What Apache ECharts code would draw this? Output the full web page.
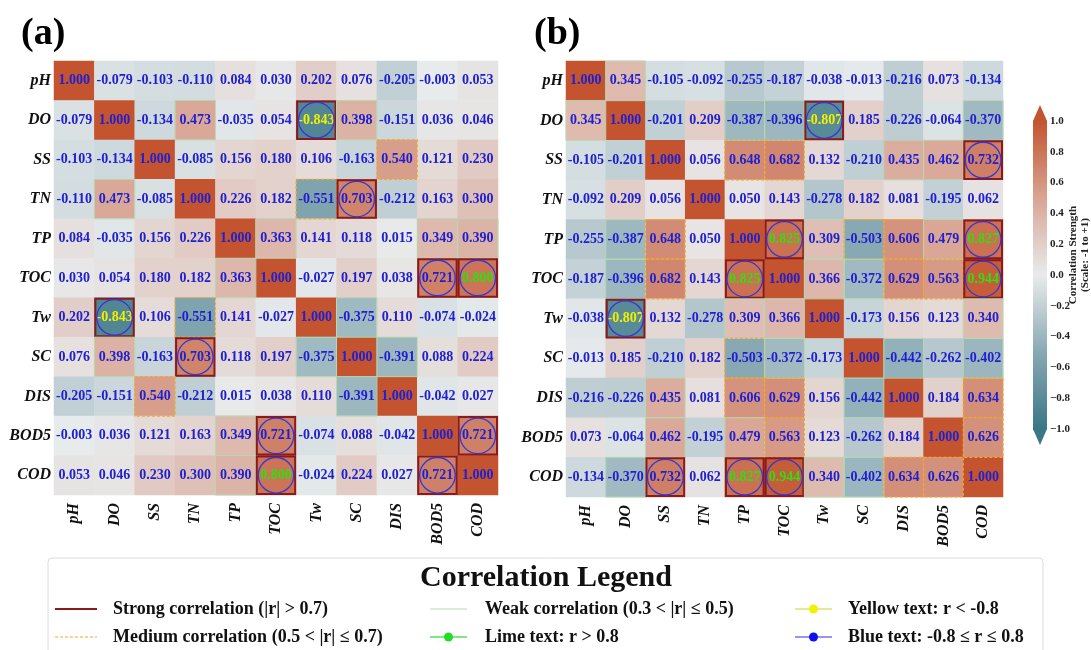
<!DOCTYPE html>
<html>
<head>
<meta charset="utf-8">
<script src="https://cdn.jsdelivr.net/npm/echarts@6/dist/echarts.min.js"></script>
<style>
  html, body { margin: 0; padding: 0; background: #fff; }
  #chart { width: 1091px; height: 650px; }
</style>
</head>
<body>
<div id="chart"></div>
<script>
// variables, same order on both axes
var labels = ['pH', 'DO', 'SS', 'TN', 'TP', 'TOC', 'Tw', 'SC', 'DIS', 'BOD5', 'COD'];

// panel (a)
var corrA = [
  [1.000, -0.079, -0.103, -0.110, 0.084, 0.030, 0.202, 0.076, -0.205, -0.003, 0.053],
  [-0.079, 1.000, -0.134, 0.473, -0.035, 0.054, -0.843, 0.398, -0.151, 0.036, 0.046],
  [-0.103, -0.134, 1.000, -0.085, 0.156, 0.180, 0.106, -0.163, 0.540, 0.121, 0.230],
  [-0.110, 0.473, -0.085, 1.000, 0.226, 0.182, -0.551, 0.703, -0.212, 0.163, 0.300],
  [0.084, -0.035, 0.156, 0.226, 1.000, 0.363, 0.141, 0.118, 0.015, 0.349, 0.390],
  [0.030, 0.054, 0.180, 0.182, 0.363, 1.000, -0.027, 0.197, 0.038, 0.721, 0.800],
  [0.202, -0.843, 0.106, -0.551, 0.141, -0.027, 1.000, -0.375, 0.110, -0.074, -0.024],
  [0.076, 0.398, -0.163, 0.703, 0.118, 0.197, -0.375, 1.000, -0.391, 0.088, 0.224],
  [-0.205, -0.151, 0.540, -0.212, 0.015, 0.038, 0.110, -0.391, 1.000, -0.042, 0.027],
  [-0.003, 0.036, 0.121, 0.163, 0.349, 0.721, -0.074, 0.088, -0.042, 1.000, 0.721],
  [0.053, 0.046, 0.230, 0.300, 0.390, 0.800, -0.024, 0.224, 0.027, 0.721, 1.000]
];

// panel (b)
var corrB = [
  [1.000, 0.345, -0.105, -0.092, -0.255, -0.187, -0.038, -0.013, -0.216, 0.073, -0.134],
  [0.345, 1.000, -0.201, 0.209, -0.387, -0.396, -0.807, 0.185, -0.226, -0.064, -0.370],
  [-0.105, -0.201, 1.000, 0.056, 0.648, 0.682, 0.132, -0.210, 0.435, 0.462, 0.732],
  [-0.092, 0.209, 0.056, 1.000, 0.050, 0.143, -0.278, 0.182, 0.081, -0.195, 0.062],
  [-0.255, -0.387, 0.648, 0.050, 1.000, 0.825, 0.309, -0.503, 0.606, 0.479, 0.827],
  [-0.187, -0.396, 0.682, 0.143, 0.825, 1.000, 0.366, -0.372, 0.629, 0.563, 0.944],
  [-0.038, -0.807, 0.132, -0.278, 0.309, 0.366, 1.000, -0.173, 0.156, 0.123, 0.340],
  [-0.013, 0.185, -0.210, 0.182, -0.503, -0.372, -0.173, 1.000, -0.442, -0.262, -0.402],
  [-0.216, -0.226, 0.435, 0.081, 0.606, 0.629, 0.156, -0.442, 1.000, 0.184, 0.634],
  [0.073, -0.064, 0.462, -0.195, 0.479, 0.563, 0.123, -0.262, 0.184, 1.000, 0.626],
  [-0.134, -0.370, 0.732, 0.062, 0.827, 0.944, 0.340, -0.402, 0.634, 0.626, 1.000]
];

// colour bar ticks
var cbTicks = [-1.0, -0.8, -0.6, -0.4, -0.2, 0.0, 0.2, 0.4, 0.6, 0.8, 1.0];

var palette = ['#3b7686', '#88a9b3', '#e8ebec', '#d9a493', '#c3542f'];
var SERIF = '"Liberation Serif", "DejaVu Serif", serif';

function textColor(v, i, j) {
  if (i === j) return '#2020d0';
  if (v < -0.8) return '#f0f000';
  if (v >= 0.8) return '#33dd11';
  return '#2020d0';
}

function heatData(m) {
  var out = [];
  for (var i = 0; i < m.length; i++) {
    for (var j = 0; j < m[i].length; j++) {
      out.push({ value: [j, i, m[i][j]], label: { color: textColor(m[i][j], i, j) } });
    }
  }
  return out;
}

function plainData(m) {
  var out = [];
  for (var i = 0; i < m.length; i++)
    for (var j = 0; j < m[i].length; j++) out.push([j, i, m[i][j]]);
  return out;
}

// frames round the cells + circles for strong ones
function renderFrame(params, api) {
  var x = api.value(0), y = api.value(1), v = api.value(2);
  if (x === y) return;
  var a = Math.abs(v);
  var c = api.coord([x, y]);
  var s = api.size([1, 1]);
  var r = { x: c[0] - s[0] / 2, y: c[1] - s[1] / 2, width: s[0], height: s[1] };
  if (a > 0.7) {
    return {
      type: 'group',
      children: [
        { type: 'rect', shape: { x: r.x + 1, y: r.y + 1, width: r.width - 2, height: r.height - 2 },
          style: { fill: null, stroke: '#8b1a1a', lineWidth: 2 } },
        { type: 'circle', shape: { cx: c[0], cy: c[1], r: Math.min(s[0], s[1]) * 0.45 },
          style: { fill: null, stroke: '#3535d8', lineWidth: 1.3 } }
      ]
    };
  }
  if (a > 0.5) {
    return { type: 'rect', shape: r, style: { fill: null, stroke: '#f0a830', lineWidth: 1.2, lineDash: [3, 2] } };
  }
  if (a > 0.3) {
    return { type: 'rect', shape: r, style: { fill: null, stroke: '#b6d9b0', lineWidth: 1 } };
  }
  return;
}

function renderBar(params, api) {
  var p1 = api.coord([0, cbTicks[cbTicks.length - 1]]);
  var p2 = api.coord([1, cbTicks[0]]);
  var x0 = p1[0], x1 = p2[0], y0 = p1[1], y1 = p2[1];
  var stops = [];
  for (var k = 0; k < palette.length; k++) {
    stops.push({ offset: k / (palette.length - 1), color: palette[palette.length - 1 - k] });
  }
  return {
    type: 'group',
    children: [
      { type: 'rect', shape: { x: x0, y: y0, width: x1 - x0, height: y1 - y0 },
        style: { fill: new echarts.graphic.LinearGradient(0, 0, 0, 1, stops) } },
      { type: 'polygon', shape: { points: [[x0, y0], [x1, y0], [(x0 + x1) / 2, y0 - 16]] },
        style: { fill: palette[palette.length - 1] } },
      { type: 'polygon', shape: { points: [[x0, y1], [x1, y1], [(x0 + x1) / 2, y1 + 16]] },
        style: { fill: palette[0] } }
    ]
  };
}

function catX(gi) {
  return {
    type: 'category', gridIndex: gi, data: labels, position: 'bottom',
    axisLine: { show: false }, axisTick: { show: false }, splitLine: { show: false },
    axisLabel: { rotate: 90, margin: 8, fontFamily: SERIF, fontWeight: 'bold', fontStyle: 'italic', fontSize: 16, color: '#111' }
  };
}
function catY(gi) {
  return {
    type: 'category', gridIndex: gi, data: labels, inverse: true,
    axisLine: { show: false }, axisTick: { show: false }, splitLine: { show: false },
    axisLabel: { margin: 3, fontFamily: SERIF, fontWeight: 'bold', fontStyle: 'italic', fontSize: 16, color: '#111' }
  };
}

var cellLabel = {
  show: true,
  fontFamily: SERIF, fontWeight: 'bold', fontSize: 14,
  formatter: function (p) { return p.value[2].toFixed(3); }
};

var chart = echarts.init(document.getElementById('chart'), null, { renderer: 'canvas' });

chart.setOption({
  backgroundColor: '#fff',
  animation: false,
  grid: [
    { left: 54, top: 61, width: 444, height: 434 },
    { left: 566, top: 61, width: 437, height: 436 },
    { left: 1033, top: 121, width: 14, height: 308 }
  ],
  xAxis: [
    catX(0), catX(1),
    { type: 'value', gridIndex: 2, min: 0, max: 1, show: false }
  ],
  yAxis: [
    catY(0), catY(1),
    {
      type: 'value', gridIndex: 2, position: 'right',
      min: cbTicks[0], max: cbTicks[cbTicks.length - 1], interval: 0.2,
      axisLine: { show: false },
      axisTick: { show: true, length: 3, lineStyle: { color: '#333' } },
      splitLine: { show: false },
      axisLabel: {
        margin: 3, fontFamily: SERIF, fontWeight: 'bold', fontSize: 11, color: '#222',
        formatter: function (v) { return v.toFixed(1).replace('-', '\u2212'); }
      }
    }
  ],
  visualMap: {
    show: false, type: 'continuous', seriesIndex: [0, 1], dimension: 2,
    min: -1, max: 1, inRange: { color: palette }
  },
  series: [
    { type: 'heatmap', xAxisIndex: 0, yAxisIndex: 0, data: heatData(corrA), label: cellLabel, itemStyle: { borderWidth: 0 } },
    { type: 'heatmap', xAxisIndex: 1, yAxisIndex: 1, data: heatData(corrB), label: cellLabel, itemStyle: { borderWidth: 0 } },
    { type: 'custom', xAxisIndex: 0, yAxisIndex: 0, data: plainData(corrA), renderItem: renderFrame, z: 5, clip: false },
    { type: 'custom', xAxisIndex: 1, yAxisIndex: 1, data: plainData(corrB), renderItem: renderFrame, z: 5, clip: false },
    { type: 'custom', xAxisIndex: 2, yAxisIndex: 2, data: [[0, 0]], renderItem: renderBar, clip: false, silent: true }
  ],
  graphic: [
    { type: 'text', left: 21, top: 15, style: { text: '(a)', font: 'bold 38px ' + SERIF, fill: '#000' } },
    { type: 'text', left: 534, top: 15, style: { text: '(b)', font: 'bold 38px ' + SERIF, fill: '#000' } },
    { type: 'text', x: 1079, y: 255, rotation: Math.PI / 2,
      style: { text: 'Correlation Strength\n(Scale: -1 to +1)', font: 'bold 11px ' + SERIF, fill: '#222',
               align: 'center', verticalAlign: 'middle', lineHeight: 12 } },
    // legend box
    { type: 'rect', shape: { x: 48, y: 558, width: 995, height: 110, r: 4 },
      style: { fill: '#fff', stroke: '#dcdcdc', lineWidth: 1 } },
    { type: 'text', x: 546, y: 578, style: { text: 'Correlation Legend', font: 'bold 30px ' + SERIF, fill: '#111', align: 'center', verticalAlign: 'middle' } },
    // column 1
    { type: 'line', shape: { x1: 55, y1: 609, x2: 97, y2: 609 }, style: { stroke: '#8b1a1a', lineWidth: 2 } },
    { type: 'text', x: 113, y: 609, style: { text: 'Strong correlation (|r| > 0.7)', font: 'bold 18px ' + SERIF, fill: '#111', verticalAlign: 'middle' } },
    { type: 'line', shape: { x1: 55, y1: 637, x2: 97, y2: 637 }, style: { stroke: '#f0a830', lineWidth: 1.2, lineDash: [3, 2] } },
    { type: 'text', x: 113, y: 637, style: { text: 'Medium correlation (0.5 < |r| \u2264 0.7)', font: 'bold 18px ' + SERIF, fill: '#111', verticalAlign: 'middle' } },
    // column 2
    { type: 'line', shape: { x1: 430, y1: 609, x2: 467, y2: 609 }, style: { stroke: '#b6d9b0', lineWidth: 1 } },
    { type: 'text', x: 485, y: 609, style: { text: 'Weak correlation (0.3 < |r| \u2264 0.5)', font: 'bold 18px ' + SERIF, fill: '#111', verticalAlign: 'middle' } },
    { type: 'line', shape: { x1: 430, y1: 637, x2: 467, y2: 637 }, style: { stroke: '#55e055', lineWidth: 1.5 } },
    { type: 'circle', shape: { cx: 448.5, cy: 637, r: 4.5 }, style: { fill: '#22dd22' } },
    { type: 'text', x: 485, y: 637, style: { text: 'Lime text: r > 0.8', font: 'bold 18px ' + SERIF, fill: '#111', verticalAlign: 'middle' } },
    // column 3
    { type: 'line', shape: { x1: 795, y1: 609, x2: 832, y2: 609 }, style: { stroke: '#e0e070', lineWidth: 1.5 } },
    { type: 'circle', shape: { cx: 813.5, cy: 609, r: 4.5 }, style: { fill: '#f2f200' } },
    { type: 'text', x: 848, y: 609, style: { text: 'Yellow text: r < -0.8', font: 'bold 18px ' + SERIF, fill: '#111', verticalAlign: 'middle' } },
    { type: 'line', shape: { x1: 795, y1: 637, x2: 832, y2: 637 }, style: { stroke: '#7070ee', lineWidth: 1.5 } },
    { type: 'circle', shape: { cx: 813.5, cy: 637, r: 4.5 }, style: { fill: '#1010ee' } },
    { type: 'text', x: 848, y: 637, style: { text: 'Blue text: -0.8 \u2264 r \u2264 0.8', font: 'bold 18px ' + SERIF, fill: '#111', verticalAlign: 'middle' } }
  ]
});
</script>
</body>
</html>
